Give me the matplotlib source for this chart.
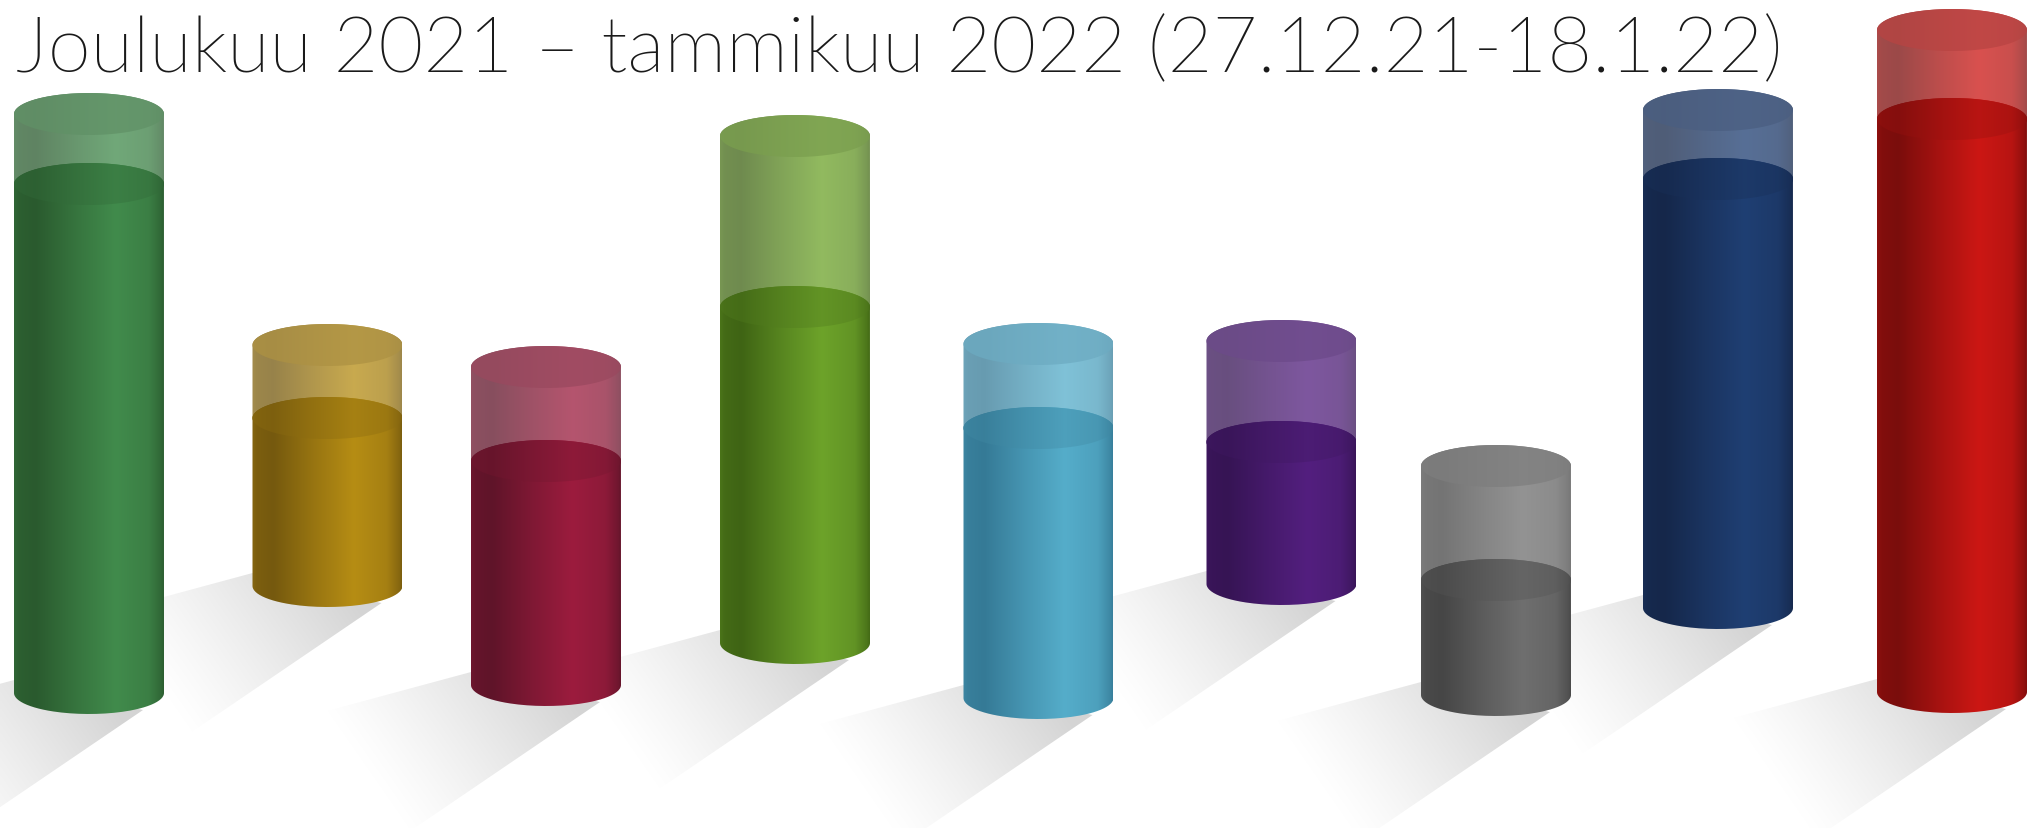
import os
import numpy as np
import matplotlib
matplotlib.use("Agg")
import matplotlib.pyplot as plt
from matplotlib import font_manager as fm
from matplotlib.path import Path
from matplotlib.patches import PathPatch
from matplotlib.colors import to_rgb

TITLE = "Joulukuu 2021 – tammikuu 2022 (27.12.21-18.1.22)"

# In full-size pixels
centres = [89, 327.5, 546, 795, 1038.5, 1281.5, 1496, 1718, 1952]
floors = [114, 221, 122, 164, 109, 223, 112, 199, 115]      # lowest edge, above image bottom
tank_heights = [621, 283, 360, 549, 396, 285, 271, 540, 704]
fill_heights = [551, 210, 266, 378, 312, 184, 157, 471, 615]
dark_colours = ["#2a5a2e", "#75590e", "#5f1429", "#3f6414", "#357a96",
                "#361454", "#464646", "#15274a", "#7a0d0c"]
light_colours = ["#418b4c", "#b68d14", "#9c1c3e", "#6da32a", "#55adca",
                 "#531f7f", "#6f6f6f", "#1f3f73", "#cc1714"]

W, H = 2038, 829
HALF = 75
RY = 21

fig = plt.figure(figsize=(W / 100, H / 100), dpi=100, facecolor="white")
ax = fig.add_axes([0, 0, 1, 1])
ax.set_axis_off()


def mix(a, b, t):
    return np.asarray(a) * (1 - t) + np.asarray(b) * t


def ramp(dark, light, n=256):
    d, l = np.array(to_rgb(dark)), np.array(to_rgb(light))
    stops = np.array([0, .03, .14, .42, .68, .9, .98, 1])
    cols = np.array([mix(d, l, .25), mix(d, l, .1), d, mix(d, l, .55), l,
                     mix(d, l, .75), mix(d, l, .3), mix(d, l, .1)])
    t = np.linspace(0, 1, n)
    return np.stack([np.interp(t, stops, cols[:, i]) for i in range(3)], -1)


def paint(xc, path, rgb, y0, y1):
    im = ax.imshow(rgb[None, :, :], extent=[xc - HALF, xc + HALF, y0, y1],
                   origin="lower", aspect="auto", interpolation="bilinear", zorder=3)
    im.set_clip_path(PathPatch(path, transform=ax.transData))


def half_arc(xc, yc, upper, reverse=False):
    a = np.linspace(np.pi, 0, 80) if upper else np.linspace(np.pi, 2 * np.pi, 80)
    pts = np.column_stack([xc + HALF * np.cos(a), yc + RY * np.sin(a)])
    return pts[::-1] if reverse else pts


def ellipse(xc, yc):
    return Path(np.vstack([half_arc(xc, yc, True), half_arc(xc, yc, False, True)]))


def band(xc, y_low, y_high):
    return Path(np.vstack([half_arc(xc, y_low, False), half_arc(xc, y_high, True, True)]))


# Ground shadows
gx, gy = np.meshgrid(np.arange(0, W, 2.0), np.arange(0, H, 2.0))
for xc, floor in zip(centres, floors):
    ax_, ay_ = xc - HALF, floor + 34
    bx_, by_ = xc + 54, floor + 4
    L = 340
    poly = np.array([[ax_, ay_], [ax_ - L, ay_ - 0.27 * L],
                     [bx_ - L, by_ - 0.68 * L], [bx_, by_]])
    d = ((xc + 10 - gx) * 0.82 + (floor + 25 - gy) * 0.57) / 215
    alpha = 0.17 * np.clip(1 - d, 0, 1) ** 1.2
    rgba = np.zeros(gx.shape + (4,))
    rgba[..., 3] = alpha
    im = ax.imshow(rgba, extent=[0, W, 0, H], origin="lower", aspect="auto",
                   interpolation="bilinear", zorder=1)
    im.set_clip_path(PathPatch(Path(poly), transform=ax.transData))

# Cylinders
white = np.ones(3)
for xc, floor, th, fh, dk, lt in zip(centres, floors, tank_heights, fill_heights,
                                     dark_colours, light_colours):
    base_c = floor + RY
    lid_c = floor + th - RY
    liq_c = floor + fh - RY
    body = ramp(dk, lt)
    glass = mix(body, white, .25)
    lid = mix(mix(body, body.mean(0), .75), white, .22)
    surface = mix(body, body.mean(0), .35) * 0.97
    paint(xc, band(xc, liq_c, lid_c), glass, liq_c - RY, lid_c + RY)
    paint(xc, band(xc, base_c, liq_c), body, floor, liq_c + RY)
    paint(xc, ellipse(xc, liq_c), surface, liq_c - RY, liq_c + RY)
    paint(xc, ellipse(xc, lid_c), lid, lid_c - RY, lid_c + RY)

ax.set_xlim(0, W)
ax.set_ylim(0, H)

# Title, sized to the measured span of the reference line
light = [f.fname for f in fm.fontManager.ttflist
         if "lato" in os.path.basename(f.fname).lower()
         and os.path.basename(f.fname).lower().replace("-", "").endswith("light.ttf")]
if light:
    props = fm.FontProperties(fname=light[0])
else:
    props = fm.FontProperties(family="Lato", weight="regular")
t = ax.text(16, H - 72, TITLE, fontproperties=props, fontsize=60,
            color="#1a1a1a", ha="left", va="baseline", zorder=2)
fig.canvas.draw()
width = t.get_window_extent().width
t.set_fontsize(60 * 1767 / width)

fig.savefig("out.png", dpi=100, facecolor="white")
